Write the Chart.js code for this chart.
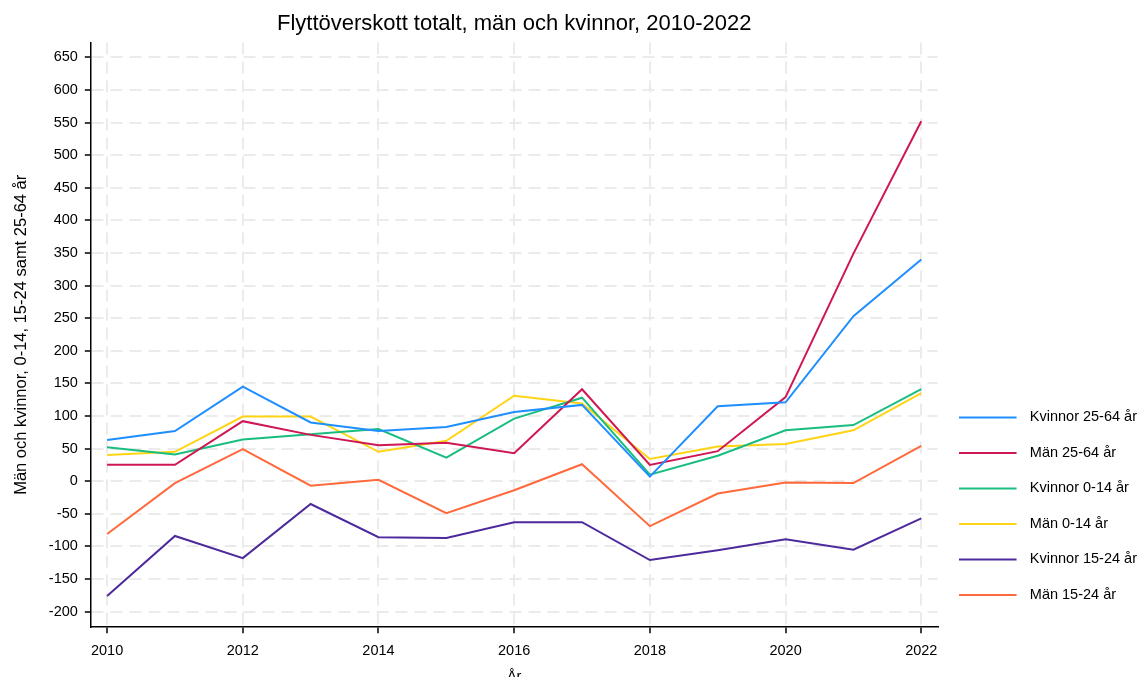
<!DOCTYPE html>
<html>
<head>
<meta charset="utf-8">
<script src="https://cdn.jsdelivr.net/npm/chart.js@4/dist/chart.umd.min.js"></script>
<style>
  html, body { margin: 0; padding: 0; background: #fff; overflow: hidden; }
  #wrap { width: 1147px; height: 686px; }
</style>
</head>
<body>
<div id="wrap"><canvas id="flyttChart"></canvas></div>
<script>
const years = [2010, 2011, 2012, 2013, 2014, 2015, 2016, 2017, 2018, 2019, 2020, 2021, 2022];
const xTicks = [2010, 2012, 2014, 2016, 2018, 2020, 2022];
const yTicks = [-200, -150, -100, -50, 0, 50, 100, 150, 200, 250, 300, 350, 400, 450, 500, 550, 600, 650];

const kvinnor2564 = [63, 77, 145, 90, 77, 83, 106, 117, 7, 115, 121, 253, 340];
const man2564 = [25, 25, 92, 71, 55, 59, 43, 141, 25, 46, 129, 349, 552];
const kvinnor014 = [52, 41, 64, 72, 80, 36, 96, 128, 10, 39, 78, 86, 141];
const man014 = [40, 45, 99, 99, 45, 62, 131, 119, 34, 53, 57, 78, 135];
const kvinnor1524 = [-176, -84, -118, -35, -86, -87, -63, -63, -121, -106, -89, -105, -57];
const man1524 = [-81, -3, 49, -7, 2, -49, -14, 26, -69, -19, -2, -3, 54];

const font = 'Liberation Sans, Arial, Helvetica, sans-serif';

// legend swatch: a short line with some empty room after it
function swatch(color) {
    const c = document.createElement('canvas');
    c.width = 64;
    c.height = 4;
    const g = c.getContext('2d');
    g.fillStyle = color;
    g.fillRect(0, 1, 58, 2);
    return c;
}

function series(label, values, color) {
    return {
        label: label,
        data: years.map((y, i) => ({ x: y, y: values[i] })),
        borderColor: color,
        backgroundColor: color,
        borderWidth: 2,
        pointRadius: 0,
        pointStyle: swatch(color),
        tension: 0
    };
}

// keep the legend in the lower part, next to the plot
const legendPlacer = {
    id: 'legendPlacer',
    afterLayout(chart) {
        chart.legend.bottom = chart.chartArea.bottom - 4;
    }
};

const ctx = document.getElementById('flyttChart').getContext('2d');
new Chart(ctx, {
    type: 'line',
    data: {
        datasets: [
            series('Kvinnor 25-64 år', kvinnor2564, '#1f8fff'),
            series('Män 25-64 år', man2564, '#cf1753'),
            series('Kvinnor 0-14 år', kvinnor014, '#19bd7f'),
            series('Män 0-14 år', man014, '#ffd414'),
            series('Kvinnor 15-24 år', kvinnor1524, '#4c2a9c'),
            series('Män 15-24 år', man1524, '#ff693b')
        ]
    },
    plugins: [legendPlacer],
    options: {
        responsive: true,
        maintainAspectRatio: false,
        animation: false,
        layout: { padding: { left: 8, right: 0, top: 0, bottom: 0 } },
        plugins: {
            title: {
                display: true,
                fullSize: false,
                text: 'Flyttöverskott totalt, män och kvinnor, 2010-2022',
                color: '#000',
                font: { family: font, size: 22, weight: 'normal' },
                padding: { top: 11, bottom: 5 }
            },
            legend: {
                position: 'right',
                align: 'end',
                labels: {
                    usePointStyle: true,
                    pointStyleWidth: 64,
                    padding: 21,
                    color: '#000',
                    font: { family: font, size: 14.5 }
                }
            },
            tooltip: { enabled: false }
        },
        scales: {
            x: {
                type: 'linear',
                min: 2009.76,
                max: 2022.24,
                afterBuildTicks: scale => { scale.ticks = xTicks.map(v => ({ value: v })); },
                ticks: {
                    color: '#000',
                    font: { family: font, size: 14.5 },
                    padding: 9,
                    maxRotation: 0,
                    callback: v => String(v)
                },
                grid: {
                    color: '#ebebeb',
                    lineWidth: 2,
                    tickColor: '#000',
                    tickWidth: 1.5,
                    tickLength: 6
                },
                border: { display: true, color: '#000', width: 1.5, dash: [12, 7] },
                title: {
                    display: true,
                    text: 'År',
                    color: '#000',
                    font: { family: font, size: 14.5 },
                    padding: { top: 0, bottom: 0 }
                }
            },
            y: {
                min: -224,
                max: 673,
                afterBuildTicks: scale => { scale.ticks = yTicks.map(v => ({ value: v })); },
                ticks: {
                    color: '#000',
                    font: { family: font, size: 14.5 },
                    padding: 7
                },
                grid: {
                    color: '#ebebeb',
                    lineWidth: 2,
                    tickColor: '#000',
                    tickWidth: 1.5,
                    tickLength: 6
                },
                border: { display: true, color: '#000', width: 1.5, dash: [12, 7] },
                title: {
                    display: true,
                    text: 'Män och kvinnor, 0-14, 15-24 samt 25-64 år',
                    color: '#000',
                    font: { family: font, size: 16.5 },
                    padding: { top: 4, bottom: 10 }
                }
            }
        }
    }
});
</script>
</body>
</html>
